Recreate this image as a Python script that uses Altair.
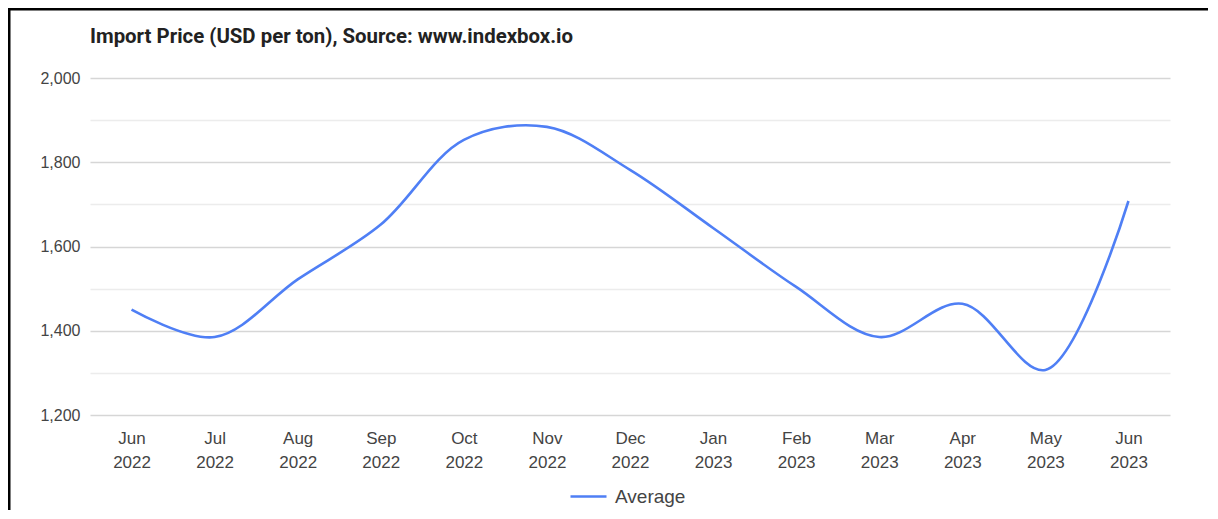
import altair as alt
import pandas as pd

months = ["Jun 2022", "Jul 2022", "Aug 2022", "Sep 2022", "Oct 2022", "Nov 2022",
          "Dec 2022", "Jan 2023", "Feb 2023", "Mar 2023", "Apr 2023", "May 2023", "Jun 2023"]
prices = [1450, 1385, 1522, 1652, 1853, 1884, 1782, 1644, 1504, 1385, 1464, 1307, 1708]
series = ["Average"] * len(months)
y_ticks = list(range(1200, 2001, 100))

df = pd.DataFrame({"month": months, "price": prices, "series": series})

W, H = 1080, 337
LINE_COLOR = "#4f7ff5"
TEXT = "#444444"

line = alt.Chart(df).mark_line(interpolate="catmull-rom", strokeWidth=2.6).encode(
    x=alt.X("month:N", sort=months, scale=alt.Scale(padding=0.5),
            axis=alt.Axis(title=None, domain=False, ticks=False, grid=False, labelAngle=0,
                          labelFontSize=17, labelColor=TEXT, labelFont="Liberation Sans",
                          labelExpr="split(datum.label, ' ')", labelLineHeight=24,
                          labelBaseline="top", labelPadding=15)),
    y=alt.Y("price:Q", scale=alt.Scale(domain=[1200, 2000], nice=False, zero=False),
            axis=alt.Axis(title=None, domain=False, ticks=False, values=y_ticks,
                          labelExpr="datum.value % 200 == 0 ? format(datum.value, ',') : ''",
                          labelFontSize=16, labelColor=TEXT, labelFont="Liberation Sans",
                          labelPadding=10,
                          gridColor={"condition": {"test": "datum.value % 200 == 0", "value": "#d6d6d6"},
                                     "value": "#ececec"},
                          gridWidth=1.5)),
    color=alt.Color("series:N", scale=alt.Scale(range=[LINE_COLOR]),
                    legend=alt.Legend(title=None, orient="none", legendX=479, legendY=399,
                                      symbolType="stroke", symbolSize=1296, symbolStrokeWidth=2.6,
                                      labelFontSize=19, labelColor=TEXT, labelFont="Liberation Sans",
                                      labelOffset=7, padding=0)),
)

deco = alt.Data(values=[{"a": 1}])
vline = alt.Chart(deco).mark_rule(color="black", strokeWidth=3).encode(
    x=alt.value(-81), y=alt.value(-70), y2=alt.value(445))
hline = alt.Chart(deco).mark_rule(color="black", strokeWidth=3).encode(
    x=alt.value(-82), x2=alt.value(1140), y=alt.value(-69))
title = alt.Chart(deco).mark_text(
    text="Import Price (USD per ton), Source: www.indexbox.io", align="left", baseline="middle",
    font="Roboto", fontSize=20.4, fontWeight="bold", color="#222222").encode(
    x=alt.value(0), y=alt.value(-41))

chart = alt.layer(line, vline, hline, title).properties(
    width=W, height=H, autosize="none",
    padding={"left": 82, "top": 70, "right": 38, "bottom": 95},
    background="white",
).configure_view(stroke=None)

chart.save("out.html", embed_options={"renderer": "svg", "actions": False})
